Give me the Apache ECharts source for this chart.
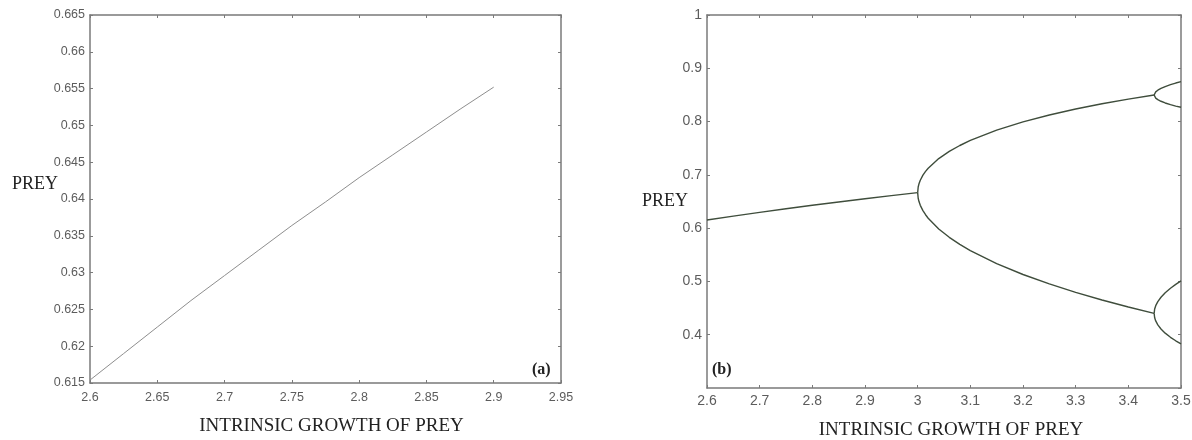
<!DOCTYPE html>
<html>
<head>
<meta charset="utf-8">
<title>Prey bifurcation</title>
<script src="https://cdn.jsdelivr.net/npm/echarts@6/dist/echarts.min.js"></script>
<style>
  html, body { margin: 0; padding: 0; background: #fff; }
  #chart { width: 1192px; height: 440px; }
</style>
</head>
<body>
<div id="chart"></div>
<script>
// panel (a): single fixed point
var growthA = [2.6, 2.625, 2.65, 2.675, 2.7, 2.725, 2.75, 2.775, 2.8, 2.825, 2.85, 2.875, 2.9];
var preyA = [0.6154, 0.6190, 0.6226, 0.6262, 0.6296, 0.6330, 0.6364, 0.6396, 0.6429, 0.6460, 0.6491, 0.6522, 0.6552];

// panel (b): bifurcation diagram, one array per branch
var growthB1 = [2.6, 2.65, 2.7, 2.75, 2.8, 2.85, 2.9, 2.95, 3.0];
var preyB1 = [0.6154, 0.6226, 0.6296, 0.6364, 0.6429, 0.6491, 0.6552, 0.6610, 0.6667];

var growthB2 = [3.0, 3.001, 3.0025, 3.005, 3.01, 3.015, 3.02, 3.04, 3.06, 3.08, 3.1, 3.15, 3.2, 3.25, 3.3, 3.35, 3.4, 3.449];
var preyB2Upper = [0.6667, 0.6772, 0.6832, 0.6899, 0.6994, 0.7065, 0.7125, 0.7306, 0.7440, 0.7551, 0.7646, 0.7840, 0.7995, 0.8124, 0.8236, 0.8334, 0.8422, 0.8499];
var preyB2Lower = [0.6667, 0.6561, 0.6499, 0.6428, 0.6329, 0.6252, 0.6186, 0.5984, 0.5828, 0.5696, 0.5580, 0.5335, 0.5130, 0.4953, 0.4794, 0.4651, 0.4520, 0.4401];

var growthB4 = [3.449, 3.45, 3.452, 3.456, 3.462, 3.47, 3.48, 3.49, 3.5];
var preyB4a = [0.8499, 0.8533, 0.8557, 0.8589, 0.8623, 0.8657, 0.8693, 0.8723, 0.8750];
var preyB4b = [0.8499, 0.8465, 0.8441, 0.8411, 0.8381, 0.8349, 0.8317, 0.8291, 0.8269];
var preyB4c = [0.4401, 0.4484, 0.4545, 0.4622, 0.4703, 0.4787, 0.4871, 0.4944, 0.5009];
var preyB4d = [0.4401, 0.4318, 0.4259, 0.4184, 0.4107, 0.4029, 0.3951, 0.3886, 0.3828];

var xTitle = 'INTRINSIC GROWTH OF PREY';
var yTitle = 'PREY';

function pairs(xs, ys) {
  return xs.map(function (x, i) { return [x, ys[i]]; });
}

var axisColor = '#7a7a7a';
var labelColor = '#5c5c5c';

function boxAxis(opt) {
  var a = {
    type: 'value',
    gridIndex: opt.grid,
    position: opt.position,
    min: opt.min,
    max: opt.max,
    interval: opt.interval,
    splitLine: { show: false },
    axisLine: { show: true, onZero: false, lineStyle: { color: axisColor, width: 1.5 } },
    axisTick: { show: true, inside: true, length: 3, lineStyle: { color: axisColor } },
    axisLabel: { show: !!opt.labels, margin: opt.margin || 6, fontFamily: 'Liberation Sans',
      fontSize: opt.labelSize || 12, color: labelColor }
  };
  if (opt.hideMin) a.axisLabel.showMinLabel = false;
  if (opt.name) {
    a.name = opt.name;
    a.nameLocation = 'middle';
    a.nameGap = opt.nameGap;
    a.nameMoveOverlap = false;
    if (opt.nameRotate !== undefined) a.nameRotate = opt.nameRotate;
    a.nameTextStyle = { fontFamily: 'Liberation Serif', fontSize: opt.nameSize || 19, color: '#222',
      padding: opt.namePadding || 0 };
    if (opt.nameLift) {
      a.nameTextStyle.verticalAlign = 'bottom';
      a.nameTextStyle.lineHeight = opt.nameLift;
    }
  }
  return a;
}

function lineSeries(x, y, data, color, width) {
  return {
    type: 'line',
    xAxisIndex: x,
    yAxisIndex: y,
    data: data,
    showSymbol: false,
    silent: true,
    lineStyle: { color: color, width: width },
    animation: false
  };
}

var branchColor = '#3f4d3c';

var chart = echarts.init(document.getElementById('chart'));
chart.setOption({
  backgroundColor: '#fff',
  animation: false,
  grid: [
    { left: 90, top: 15, width: 471, height: 368, outerBoundsMode: 'none' },
    { left: 707, top: 15, width: 474, height: 373, outerBoundsMode: 'none' }
  ],
  xAxis: [
    boxAxis({ grid: 0, position: 'bottom', min: 2.6, max: 2.95, interval: 0.05, labels: true, margin: 8,
      labelSize: 12.5, name: xTitle, nameGap: 34, namePadding: [0, 0, 0, 12] }),
    boxAxis({ grid: 0, position: 'top', min: 2.6, max: 2.95, interval: 0.05 }),
    boxAxis({ grid: 1, position: 'bottom', min: 2.6, max: 3.5, interval: 0.1, labels: true, margin: 6,
      labelSize: 14, name: xTitle, nameGap: 33, namePadding: [0, 0, 0, 14] }),
    boxAxis({ grid: 1, position: 'top', min: 2.6, max: 3.5, interval: 0.1 })
  ],
  yAxis: [
    boxAxis({ grid: 0, position: 'left', min: 0.615, max: 0.665, interval: 0.005, labels: true, margin: 5,
      labelSize: 12.5, name: yTitle, nameGap: 32, nameRotate: 0, nameSize: 18, nameLift: 30 }),
    boxAxis({ grid: 0, position: 'right', min: 0.615, max: 0.665, interval: 0.005 }),
    boxAxis({ grid: 1, position: 'left', min: 0.3, max: 1, interval: 0.1, labels: true, hideMin: true, margin: 5,
      labelSize: 14, name: yTitle, nameGap: 19, nameRotate: 0, nameSize: 18 }),
    boxAxis({ grid: 1, position: 'right', min: 0.3, max: 1, interval: 0.1 })
  ],
  series: [
    lineSeries(0, 0, pairs(growthA, preyA), '#8e8e8e', 1),
    lineSeries(2, 2, pairs(growthB1, preyB1), branchColor, 1.4),
    lineSeries(2, 2, pairs(growthB2, preyB2Upper), branchColor, 1.4),
    lineSeries(2, 2, pairs(growthB2, preyB2Lower), branchColor, 1.4),
    lineSeries(2, 2, pairs(growthB4, preyB4a), branchColor, 1.4),
    lineSeries(2, 2, pairs(growthB4, preyB4b), branchColor, 1.4),
    lineSeries(2, 2, pairs(growthB4, preyB4c), branchColor, 1.4),
    lineSeries(2, 2, pairs(growthB4, preyB4d), branchColor, 1.4)
  ],
  graphic: [
    { type: 'text', left: 532, top: 362,
      style: { text: '(a)', fontFamily: 'Liberation Serif', fontWeight: 'bold', fontSize: 16, fill: '#222' } },
    { type: 'text', left: 712, top: 362,
      style: { text: '(b)', fontFamily: 'Liberation Serif', fontWeight: 'bold', fontSize: 16, fill: '#222' } }
  ]
});
</script>
</body>
</html>
